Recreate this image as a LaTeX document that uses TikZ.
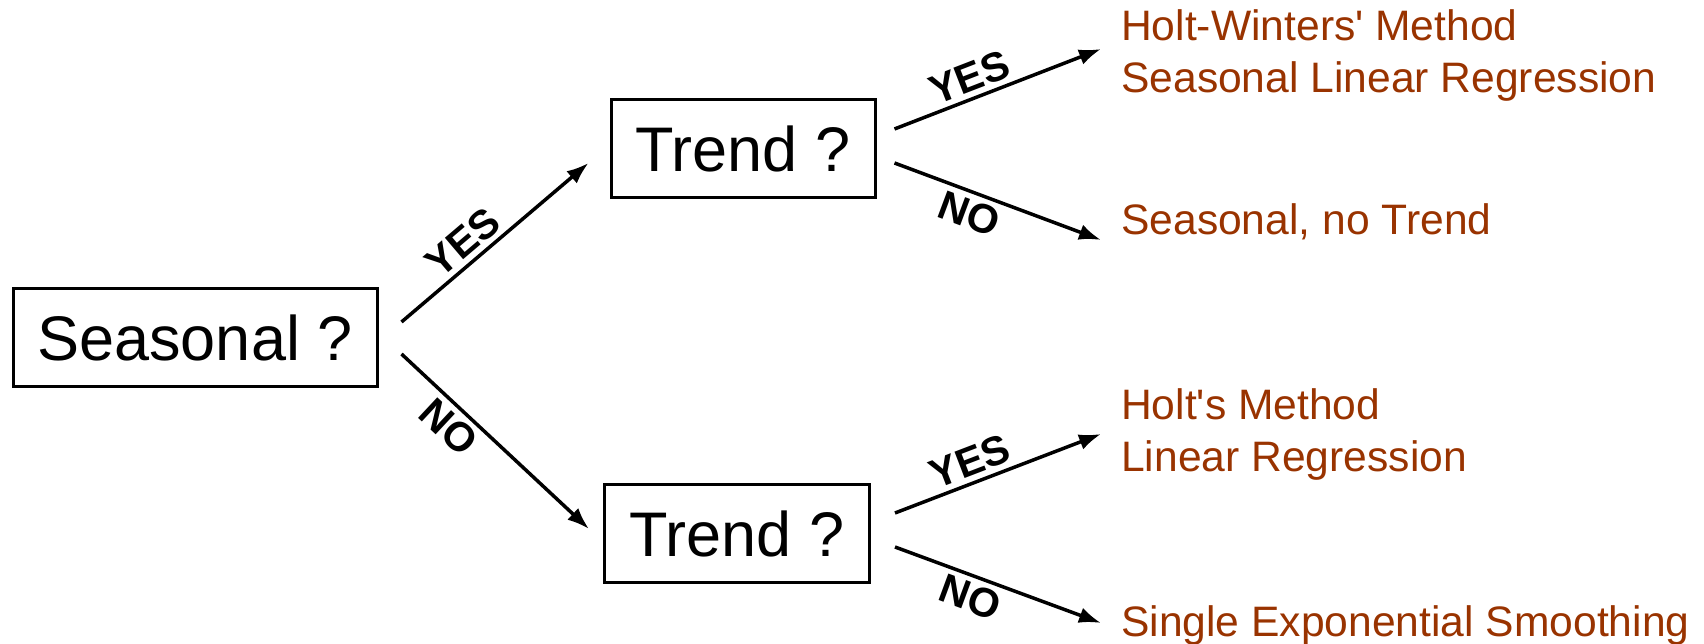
\documentclass[tikz,border=0pt]{standalone}
\usepackage{fontspec}
\setmainfont{Liberation Sans}
\usetikzlibrary{arrows.meta}
\definecolor{methodbrown}{RGB}{153,51,0}
\begin{document}
\begin{tikzpicture}[x=1pt,y=1pt,
	question/.style={draw,line width=3pt,minimum height=98pt,inner sep=0pt,font=\fontsize{63}{74}\selectfont},
	branch/.style={line width=3.5pt,-{Latex[length=22pt,width=16pt]}},
	answer/.style={font=\fontsize{41}{48}\selectfont\bfseries,sloped,inner sep=5pt},
	method/.style={anchor=west,align=left,text=methodbrown,inner sep=0pt,font=\fontsize{42.6}{52}\selectfont}]
	\useasboundingbox (0,0) rectangle (1704,644);
	% questions
	\node[question,minimum width=364pt](seasonal) at (195,306) {Seasonal ?};
	\node[question,minimum width=264pt](trendyes) at (743,495) {Trend ?};
	\node[question,minimum width=265pt](trendno) at (737,110) {Trend ?};
	% answers
	\node[method](holtwinters) at (1121,589) {Holt-Winters\textquotesingle\ Method\\Seasonal Linear Regression};
	\node[method](seasonalonly) at (1121,422) {Seasonal, no Trend};
	\node[method](holt) at (1121,210) {Holt\textquotesingle s Method\\Linear Regression};
	\node[method](single) at (1121,19) {Single Exponential Smoothing};
	% arrow ends
	\coordinate (s-yes) at ([shift={(23,16)}]seasonal.east);
	\coordinate (s-no) at ([shift={(23,-16)}]seasonal.east);
	\coordinate (ty-in) at ([shift={(-21,-14)}]trendyes.west);
	\coordinate (tn-in) at ([shift={(-14,5)}]trendno.west);
	\coordinate (ty-yes) at ([shift={(18,20)}]trendyes.east);
	\coordinate (ty-no) at ([shift={(18,-14)}]trendyes.east);
	\coordinate (tn-yes) at ([shift={(24,21)}]trendno.east);
	\coordinate (tn-no) at ([shift={(24,-13)}]trendno.east);
	\coordinate (hw-in) at ([shift={(-20,6)}]holtwinters.west);
	\coordinate (so-in) at ([shift={(-20,-18)}]seasonalonly.west);
	\coordinate (h-in) at ([shift={(-20,0)}]holt.west);
	\coordinate (se-in) at ([shift={(-20,2)}]single.west);
	\draw[branch](s-yes)--(ty-in)node[answer,pos=0.4,above]{YES};
	\draw[branch](s-no)--(tn-in)node[answer,pos=0.33,below]{NO};
	\draw[branch](ty-yes)--(hw-in)node[answer,pos=0.4,above]{YES};
	\draw[branch](ty-no)--(so-in)node[answer,pos=0.4,below]{NO};
	\draw[branch](tn-yes)--(h-in)node[answer,pos=0.4,above]{YES};
	\draw[branch](tn-no)--(se-in)node[answer,pos=0.4,below]{NO};
\end{tikzpicture}
\end{document}
